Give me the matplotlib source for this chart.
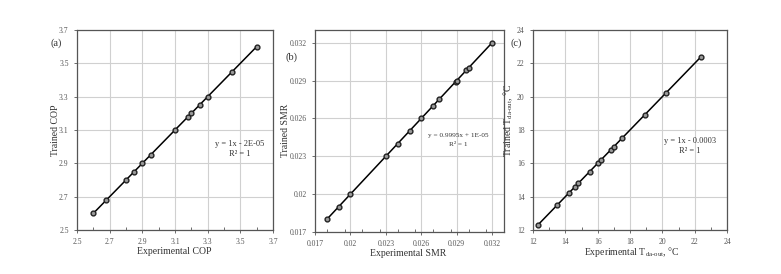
import numpy as np
import matplotlib
matplotlib.use("Agg")
import matplotlib.pyplot as plt
from matplotlib.ticker import MultipleLocator, FixedLocator

plt.rcParams['font.family'] = ['Liberation Serif', 'DejaVu Serif']
plt.rcParams['mathtext.fontset'] = 'custom'
plt.rcParams['mathtext.rm'] = 'Liberation Serif'
plt.rcParams['mathtext.it'] = 'Liberation Serif:italic'

# (a) COP
cop_exp = [2.6, 2.68, 2.8, 2.85, 2.9, 2.95, 3.1, 3.18, 3.2, 3.25, 3.3, 3.45, 3.6]
cop_tr = [2.6, 2.68, 2.8, 2.85, 2.9, 2.95, 3.1, 3.18, 3.2, 3.25, 3.3, 3.45, 3.6]
# (b) SMR
smr_exp = [0.018, 0.019, 0.020, 0.023, 0.024, 0.025, 0.026, 0.027, 0.0275,
           0.0289, 0.0290, 0.0298, 0.0300, 0.032]
smr_tr = [0.018, 0.019, 0.020, 0.023, 0.024, 0.025, 0.026, 0.027, 0.0275,
          0.0289, 0.0290, 0.0298, 0.0300, 0.032]
# (c) T_da-out
t_exp = [12.3, 13.5, 14.2, 14.6, 14.8, 15.5, 16.0, 16.2, 16.8, 17.0, 17.5, 18.9, 20.2, 22.4]
t_tr = [12.3, 13.5, 14.2, 14.6, 14.8, 15.5, 16.0, 16.2, 16.8, 17.0, 17.5, 18.9, 20.2, 22.4]

fig = plt.figure(figsize=(7.81, 2.74), dpi=100)
W, H = 781, 274

def mkax(l, r, t, b):
    return fig.add_axes([l/W, 1-b/H, (r-l)/W, (b-t)/H])

tsub = "T$_{\\mathrm{da\\text{-}out}}$, \u00b0C"

panels = [
    dict(box=(77, 273, 30, 230), x=cop_exp, y=cop_tr, lim=(2.5, 3.7),
         ticks=np.arange(2.5, 3.71, 0.2), minor=0.1, fmt=lambda v: f"{v:.1f}",
         xl="Experimental COP", xlpos=(174, 252), yl="Trained COP", ylpos=(55, 130),
         eq="y = 1x - 2E-05", eqpos=(240, 144), eqfs=6, tag="(a)", tagpos=(56, 43)),
    dict(box=(315, 504, 30, 232), x=smr_exp, y=smr_tr, lim=(0.017, 0.033),
         ticks=[0.017, 0.020, 0.023, 0.026, 0.029, 0.032], minor=0.0015,
         fmt=lambda v: "0.02" if abs(v-0.02) < 1e-9 else "%.3f" % v,
         xl="Experimental SMR", xlpos=(408, 254), yl="Trained SMR", ylpos=(285, 130),
         eq="y = 0.9995x + 1E-05", eqpos=(458, 135), eqfs=5.2, tag="(b)", tagpos=(292, 57)),
    dict(box=(533, 727, 30, 230), x=t_exp, y=t_tr, lim=(12, 24),
         ticks=np.arange(12, 24.1, 2), minor=1, fmt=lambda v: f"{v:.0f}",
         xl="Experimental " + tsub, xlpos=(632, 252), yl="Trained " + tsub, ylpos=(508, 120),
         eq="y = 1x - 0.0003", eqpos=(690, 141), eqfs=6, tag="(c)", tagpos=(516, 43)),
]

for p in panels:
    ax = mkax(*p['box'])
    lo, hi = p['lim']
    ax.set_xlim(lo, hi)
    ax.set_ylim(lo, hi)
    ax.xaxis.set_major_locator(FixedLocator(p['ticks']))
    ax.yaxis.set_major_locator(FixedLocator(p['ticks']))
    ax.xaxis.set_minor_locator(MultipleLocator(p['minor']))
    ax.set_xticklabels([p['fmt'](v) for v in p['ticks']])
    ax.set_yticklabels([p['fmt'](v) for v in p['ticks']])
    ax.grid(True, color='#d0d0d0', linewidth=0.8)
    ax.set_axisbelow(True)
    ax.tick_params(labelsize=5.5, colors='#555555', length=2.5, width=0.6)
    ax.tick_params(axis='x', which='minor', direction='in', length=2, width=0.6, colors='#555555')
    for s in ax.spines.values():
        s.set_color('#555555')
        s.set_linewidth(0.9)
    ax.plot([min(p['x']), max(p['x'])], [min(p['y']), max(p['y'])], color='black', lw=1.1, zorder=2)
    ax.scatter(p['x'], p['y'], s=12, facecolor='#9a9a9a', edgecolor='#222222', linewidth=1.0, zorder=3)
    lx, ly = p['xlpos']
    fig.text(lx/W, 1-ly/H, p['xl'], fontsize=7, color='#333333', ha='center', va='center')
    lx, ly = p['ylpos']
    fig.text(lx/W, 1-ly/H, p['yl'], fontsize=7, color='#333333', ha='center', va='center',
             rotation=90)
    ex, ey = p['eqpos']
    fig.text(ex/W, 1-ey/H, p['eq'], fontsize=p['eqfs'], color='#333333', ha='center', va='center')
    fig.text(ex/W, 1-(ey+10)/H, "R\u00b2 = 1", fontsize=p['eqfs'], color='#333333', ha='center', va='center')
    tx, ty = p['tagpos']
    fig.text(tx/W, 1-ty/H, p['tag'], fontsize=7.5, color='#333333', ha='center', va='center')

fig.savefig("out.png", dpi=100, facecolor='white')
